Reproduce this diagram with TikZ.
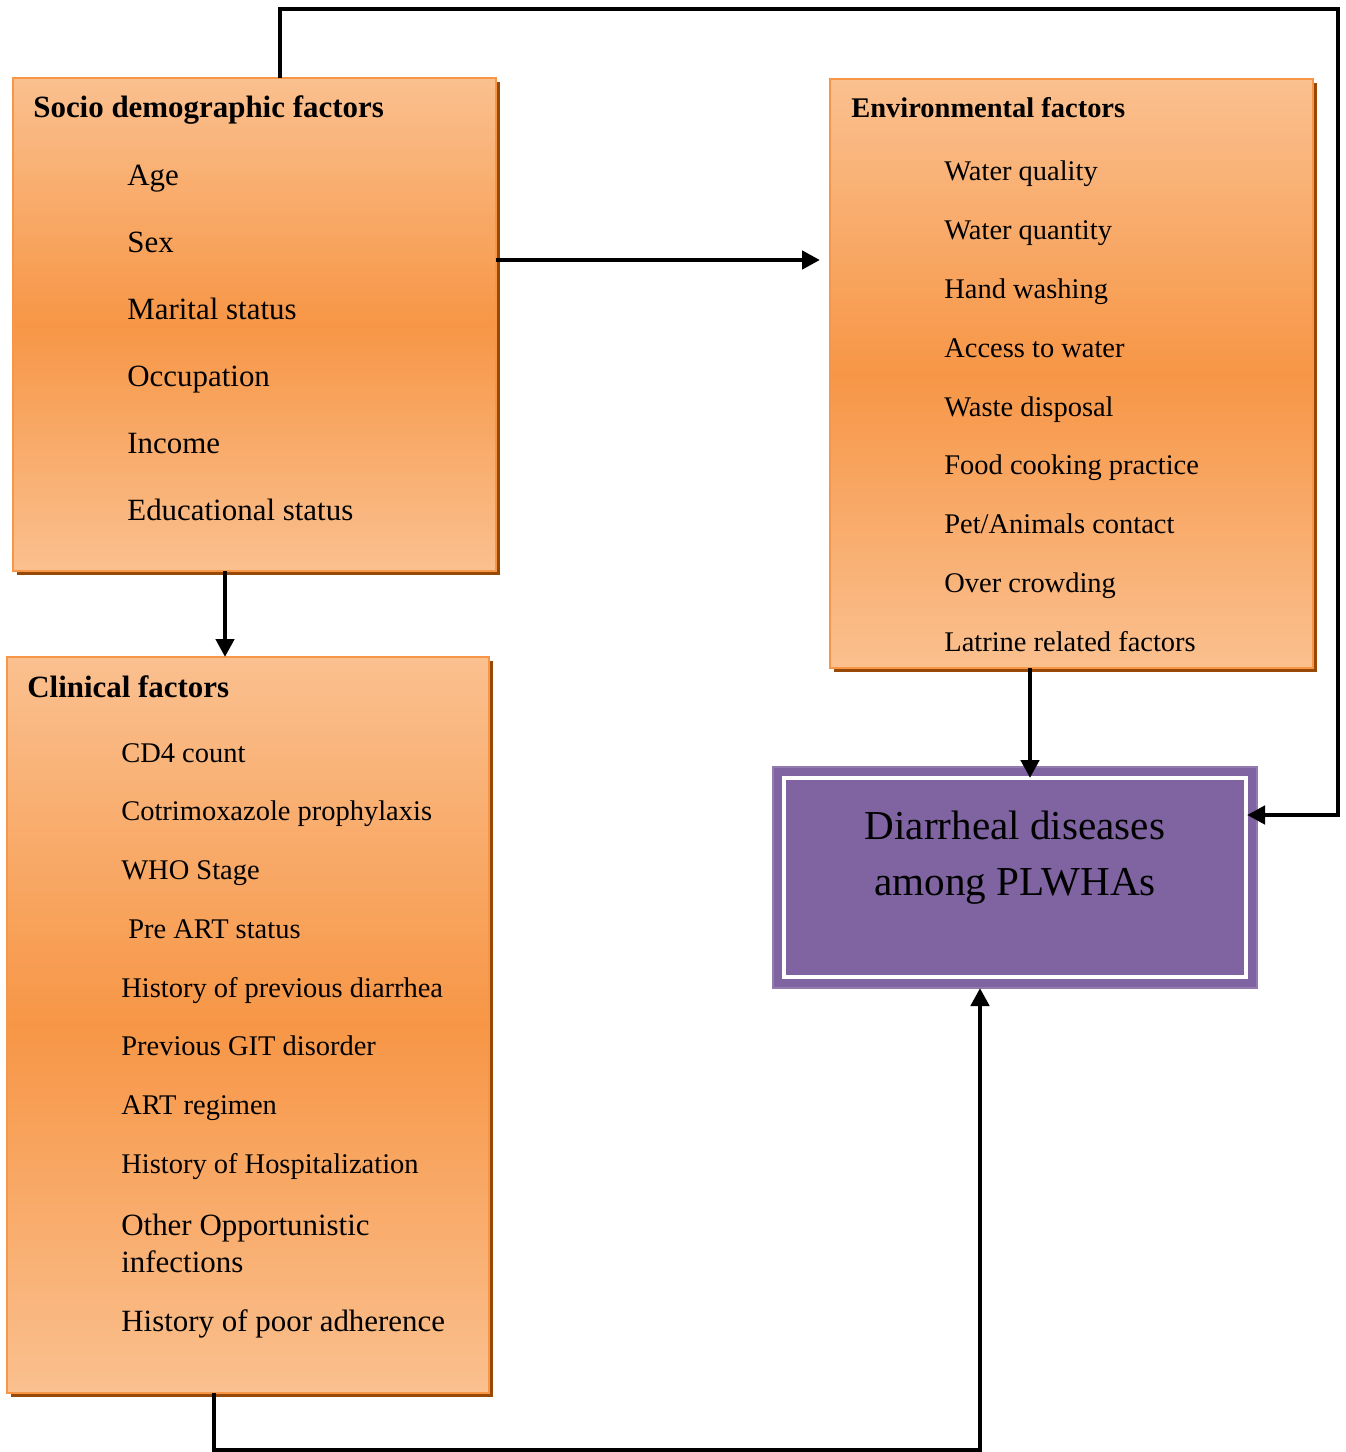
\documentclass[tikz,border=0pt]{standalone}
\usepackage{fontspec}
\setmainfont{Liberation Serif}
\usetikzlibrary{arrows.meta, calc, shadows}
\definecolor{orlight}{HTML}{FAC08F}
\definecolor{ormid}{HTML}{F79646}
\definecolor{orshadow}{HTML}{984807}
\definecolor{plum}{HTML}{8064A2}

\begin{document}
\begin{tikzpicture}[
  >={Triangle[length=3.6mm, width=3.6mm]},
  link/.style={line width=2.7pt, black},
  factorbox/.style={draw=ormid, line width=1.5pt, top color=orlight,
    bottom color=orlight, middle color=ormid, inner sep=0pt, outer sep=0pt,
    drop shadow={shadow xshift=0.08cm, shadow yshift=-0.08cm,
      fill=orshadow, opacity=1}},
  ddbox/.style={fill=plum, draw=plum!85!white, line width=0.6pt,
    inner sep=0pt, outer sep=0pt},
  bigtitle/.style={font=\bfseries\fontsize{17.6}{21}\selectfont,
    anchor=base west, inner sep=0pt},
  bigitem/.style={font=\fontsize{17.6}{21}\selectfont,
    anchor=base west, inner sep=0pt},
  smalltitle/.style={font=\bfseries\fontsize{16.2}{19.4}\selectfont,
    anchor=base west, inner sep=0pt},
  smallitem/.style={font=\fontsize{16.2}{19.4}\selectfont,
    anchor=base west, inner sep=0pt}
]

% Page frame
\useasboundingbox (0,0) rectangle (26.9,-29.04);

% ── Boxes ──
\node[factorbox, minimum width=9.66cm, minimum height=9.86cm]
  (socio) at (5.09,-6.49) {};
\node[factorbox, minimum width=9.66cm, minimum height=11.78cm]
  (env) at (21.43,-7.47) {};
\node[factorbox, minimum width=9.64cm, minimum height=14.72cm]
  (clin) at (4.96,-20.5) {};
\node[ddbox, minimum width=9.68cm, minimum height=4.42cm]
  (dd) at (20.3,-17.55) {};
\draw[white, line width=2pt] ([shift={(0.22,-0.22)}]dd.north west)
  rectangle ([shift={(-0.22,0.22)}]dd.south east);

% ── Socio demographic factors ──
\node[bigtitle] (sociotitle) at (0.66,-2.36) {Socio demographic factors};
\node[bigitem] (s1) at (2.54,-3.70) {Age};
\node[bigitem] (s2) at (2.54,-5.04) {Sex};
\node[bigitem] (s3) at (2.54,-6.38) {Marital status};
\node[bigitem] (s4) at (2.54,-7.72) {Occupation};
\node[bigitem] (s5) at (2.54,-9.06) {Income};
\node[bigitem] (s6) at (2.54,-10.40) {Educational status};

% ── Environmental factors ──
\node[smalltitle] (envtitle) at (17.02,-2.36) {Environmental factors};
\node[smallitem] (e1) at (18.88,-3.60) {Water quality};
\node[smallitem] (e2) at (18.88,-4.78) {Water quantity};
\node[smallitem] (e3) at (18.88,-5.96) {Hand washing};
\node[smallitem] (e4) at (18.88,-7.14) {Access to water};
\node[smallitem] (e5) at (18.88,-8.32) {Waste disposal};
\node[smallitem] (e6) at (18.88,-9.48) {Food cooking practice};
\node[smallitem] (e7) at (18.88,-10.66) {Pet/Animals contact};
\node[smallitem] (e8) at (18.88,-11.84) {Over crowding};
\node[smallitem] (e9) at (18.88,-13.02) {Latrine related factors};

% ── Clinical factors ──
\node[bigtitle] (clintitle) at (0.54,-13.94) {Clinical factors};
\node[smallitem] (c1) at (2.42,-15.24) {CD4 count};
\node[smallitem] (c2) at (2.42,-16.40) {Cotrimoxazole prophylaxis};
\node[smallitem] (c3) at (2.42,-17.58) {WHO Stage};
\node[smallitem] (c4) at (2.56,-18.76) {Pre ART status};
\node[smallitem] (c5) at (2.42,-19.94) {History of previous diarrhea};
\node[smallitem] (c6) at (2.42,-21.10) {Previous GIT disorder};
\node[smallitem] (c7) at (2.42,-22.28) {ART regimen};
\node[smallitem] (c8) at (2.42,-23.46) {History of Hospitalization};
\node[bigitem, anchor=west, align=left] (c9) at (2.42,-24.87)
  {Other Opportunistic\\infections};
\node[bigitem] (c10) at (2.42,-26.62) {History of poor adherence};

% ── Outcome ──
\node[font=\fontsize{23.4}{31.9}\selectfont, align=center] (ddlabel)
  at (20.3,-17.15) {Diarrheal diseases\\among PLWHAs};

% ── Connectors ──
\coordinate (loopNE) at (26.76,-0.18);
\coordinate (loopS) at (19.6,-29.0);
\draw[link, ->] ([xshift=0.51cm]socio.north) |- (loopNE)
  |- ([xshift=-0.2cm, yshift=1.25cm]dd.east);
\draw[link, ->, shorten >=0.2cm] ([yshift=1.29cm]socio.east)
  -- ([yshift=1.29cm]socio.east -| env.west);
\draw[link, ->] ([xshift=-0.59cm]socio.south)
  -- ([xshift=-0.59cm]socio.south |- clin.north);
\draw[link, ->, shorten >=-0.22cm] ([xshift=-0.83cm]env.south)
  -- ([xshift=-0.83cm]env.south |- dd.north);
\draw[link, ->] ([xshift=-0.68cm]clin.south) |- (loopS)
  -- ([xshift=-0.7cm]dd.south);

\end{tikzpicture}
\end{document}
